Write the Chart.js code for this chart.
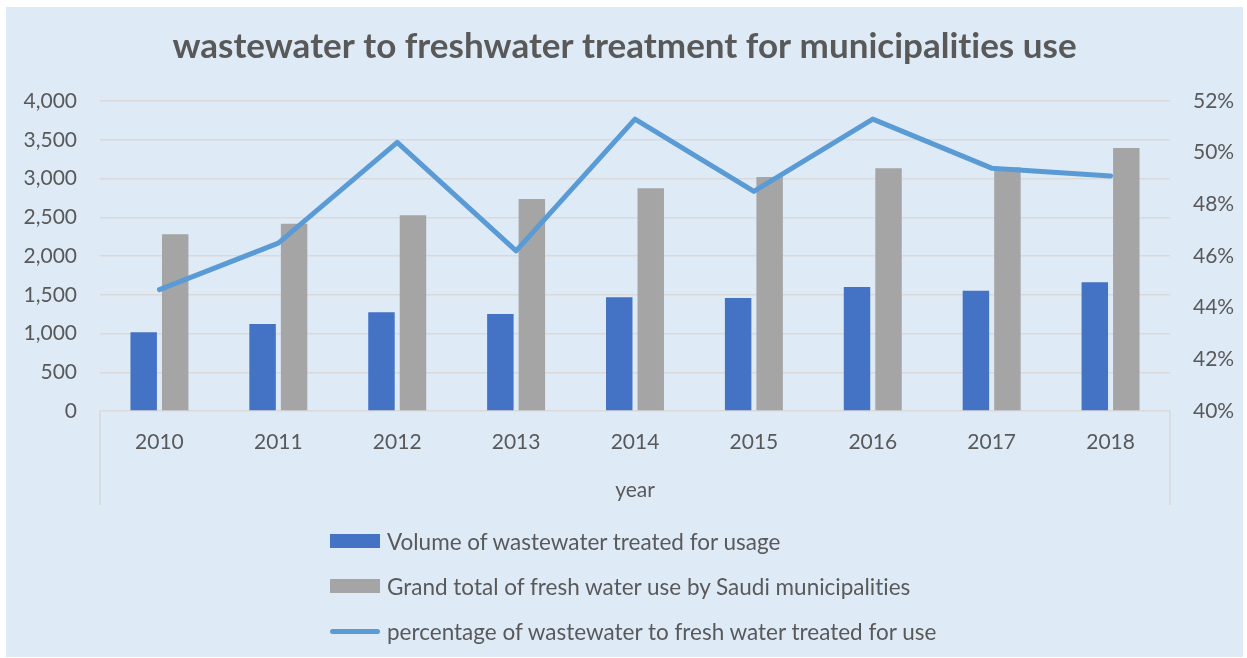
<!DOCTYPE html>
<html>
<head>
<meta charset="utf-8">
<script src="https://cdn.jsdelivr.net/npm/chart.js@4"></script>
<style>
  html, body { margin: 0; padding: 0; background: #ffffff; }
  #frame { position: absolute; left: 6px; top: 7px; width: 1237px; height: 650px; background: #deebf7; }
  #chartBox { position: absolute; left: 0; top: 0; width: 1237px; height: 650px; }
  #legend { position: absolute; left: 324px; top: 0; font-family: Lato, sans-serif; font-size: 22.5px; color: #595959; font-variant-ligatures: none; }
  .item { position: absolute; left: 0; height: 28px; display: flex; align-items: center; white-space: nowrap; }
  .swatch { width: 50px; margin-right: 7px; flex: 0 0 50px; }
</style>
</head>
<body>
<div id="frame">
  <div id="chartBox"><canvas id="c" width="1237" height="650"></canvas></div>
  <div id="legend"></div>
</div>
<script>
const years = ['2010', '2011', '2012', '2013', '2014', '2015', '2016', '2017', '2018'];
const wastewaterVolume = [1015, 1123, 1273, 1252, 1467, 1458, 1600, 1553, 1660];
const freshWaterTotal = [2280, 2417, 2525, 2735, 2873, 3019, 3131, 3144, 3394];
const wastewaterPercent = [44.7, 46.5, 50.4, 46.2, 51.3, 48.5, 51.3, 49.4, 49.1];
const leftTicks = [0, 500, 1000, 1500, 2000, 2500, 3000, 3500, 4000];
const rightTicks = [40, 42, 44, 46, 48, 50, 52];

const textColor = '#595959';
const gridColor = '#d9d9d9';
const tickFont = { family: 'Lato', size: 21 };

const frameLines = {
  id: 'frameLines',
  beforeDraw(chart) {
    chart.ctx.textRendering = 'optimizeSpeed';
  },
  beforeDatasetsDraw(chart) {
    const { ctx, chartArea, scales } = chart;
    ctx.save();
    ctx.strokeStyle = gridColor;
    ctx.lineWidth = 1.5;
    ctx.beginPath();
    ctx.moveTo(chartArea.left, chartArea.bottom);
    ctx.lineTo(chartArea.left, scales.x.bottom);
    ctx.moveTo(chartArea.right, chartArea.bottom);
    ctx.lineTo(chartArea.right, scales.x.bottom);
    ctx.stroke();
    ctx.restore();
  }
};

const chart = new Chart(document.getElementById('c'), {
  type: 'bar',
  data: {
    labels: years,
    datasets: [
      {
        type: 'line',
        label: 'percentage of wastewater to fresh water treated for use',
        data: wastewaterPercent,
        yAxisID: 'y1',
        borderColor: '#5b9bd5',
        backgroundColor: '#5b9bd5',
        borderWidth: 5,
        pointRadius: 0,
        tension: 0,
        borderCapStyle: 'round',
        borderJoinStyle: 'round',
        order: 0
      },
      {
        label: 'Volume of wastewater treated for usage',
        data: wastewaterVolume,
        yAxisID: 'y',
        backgroundColor: '#4472c4',
        categoryPercentage: 0.53,
        barPercentage: 0.84,
        order: 1
      },
      {
        label: 'Grand total of fresh water use by Saudi municipalities',
        data: freshWaterTotal,
        yAxisID: 'y',
        backgroundColor: '#a5a5a5',
        categoryPercentage: 0.53,
        barPercentage: 0.84,
        order: 2
      }
    ]
  },
  options: {
    responsive: false,
    animation: false,
    layout: { padding: { left: 0, right: 0, top: 0, bottom: 152 } },
    plugins: {
      legend: { display: false },
      tooltip: { enabled: false },
      title: {
        display: true,
        text: 'wastewater to freshwater treatment for municipalities use',
        color: textColor,
        font: { family: 'Lato', size: 35, weight: 'bold' },
        padding: { top: 19, bottom: 33 }
      }
    },
    scales: {
      x: {
        offset: true,
        grid: { display: false, drawTicks: false },
        border: { display: false },
        ticks: { color: textColor, font: tickFont, padding: 19 },
        title: { display: true, text: 'year', color: textColor, font: tickFont, padding: { top: 4, bottom: 2 } },
        afterFit(s) { s.height = 94; }
      },
      y: {
        position: 'left',
        min: 0,
        max: 4000,
        afterBuildTicks(s) { s.ticks = leftTicks.map(v => ({ value: v })); },
        ticks: { color: textColor, font: tickFont, padding: 23, callback: v => v.toLocaleString('en-US') },
        grid: { color: gridColor, lineWidth: 1.5, drawTicks: false },
        border: { display: false },
        afterFit(s) { s.width = 94; }
      },
      y1: {
        position: 'right',
        min: 40,
        max: 52,
        afterBuildTicks(s) { s.ticks = rightTicks.map(v => ({ value: v })); },
        ticks: { color: textColor, font: tickFont, padding: 23, callback: v => v + '%' },
        grid: { display: false, drawTicks: false },
        border: { display: false },
        afterFit(s) { s.width = 73; }
      }
    }
  },
  plugins: [frameLines]
});

// HTML legend built from the chart datasets
const legendOrder = [1, 2, 0];
const legendCenters = [534, 579, 624];
const legendEl = document.getElementById('legend');
legendOrder.forEach((di, i) => {
  const ds = chart.data.datasets[di];
  const item = document.createElement('div');
  item.className = 'item';
  item.style.top = (legendCenters[i] - 14) + 'px';
  const sw = document.createElement('span');
  sw.className = 'swatch';
  if (ds.type === 'line') {
    sw.style.height = '5px';
    sw.style.borderRadius = '3px';
    sw.style.background = ds.borderColor;
  } else {
    sw.style.height = '14px';
    sw.style.background = ds.backgroundColor;
  }
  const tx = document.createElement('span');
  tx.textContent = ds.label;
  item.appendChild(sw);
  item.appendChild(tx);
  legendEl.appendChild(item);
});
</script>
</body>
</html>
